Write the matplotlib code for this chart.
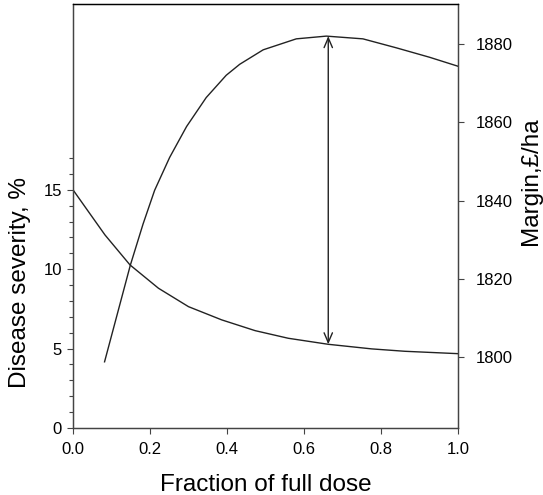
import matplotlib.pyplot as plt
from matplotlib.ticker import FixedLocator

plt.rcParams['font.family'] = ['Liberation Sans', 'DejaVu Sans']

# Disease severity (%)
dose_disease = [0.0, 0.040, 0.083, 0.148, 0.222, 0.300, 0.386, 0.473, 0.559, 0.663, 0.776, 0.862, 1.0]
severity = [15.0, 13.63, 12.16, 10.27, 8.80, 7.64, 6.81, 6.13, 5.65, 5.27, 4.98, 4.83, 4.68]

# Margin (GBP/ha)
dose_margin = [0.082, 0.149, 0.182, 0.212, 0.251, 0.295, 0.346, 0.398, 0.433, 0.494,
               0.580, 0.658, 0.753, 0.840, 0.926, 1.0]
margin = [1798.8, 1823.5, 1834.0, 1842.6, 1851.0, 1858.9, 1866.3, 1872.0, 1874.8, 1878.5,
          1881.3, 1882.0, 1881.3, 1879.0, 1876.6, 1874.3]

# optimum dose where the arrow is drawn
opt_dose = 0.663
opt_severity = 5.27
opt_margin = 1882.0

fig = plt.figure(figsize=(5.43, 4.95), dpi=100)
ax = fig.add_axes([0.1344, 0.1354, 0.7091, 0.8565])
ax2 = ax.twinx()

ax.plot(dose_disease, severity, color='#222222', lw=1.0)
ax2.plot(dose_margin, margin, color='#222222', lw=1.0)

ax.set_xlim(0, 1.0)
ax.set_ylim(0, 26.7)
ax2.set_ylim(1781.9, 1890.2)

ax.set_xticks([0.0, 0.2, 0.4, 0.6, 0.8, 1.0])
ax.set_xticklabels(['0.0', '0.2', '0.4', '0.6', '0.8', '1.0'])
ax.set_yticks([0, 5, 10, 15])
ax.yaxis.set_minor_locator(FixedLocator([1, 2, 3, 4, 6, 7, 8, 9, 11, 12, 13, 14, 16, 17]))
ax2.set_yticks([1800, 1820, 1840, 1860, 1880])

ax.tick_params(axis='x', which='major', direction='out', length=4, width=0.8,
               color='#444444', labelsize=12, pad=6)
ax.tick_params(axis='y', which='major', direction='out', length=4, width=0.8,
               color='#444444', labelsize=12, pad=4)
ax.tick_params(axis='y', which='minor', direction='out', length=3, width=0.8, color='#444444')
ax2.tick_params(axis='y', which='major', direction='out', length=4, width=0.8,
                color='#444444', labelsize=12, pad=9)

for a in (ax, ax2):
    for s in a.spines.values():
        s.set_color('#444444')
        s.set_linewidth(0.9)
    a.spines['top'].set_color('black')

ax.set_xlabel('Fraction of full dose', fontsize=17.5, labelpad=12)
ax.set_ylabel('Disease severity, %', fontsize=17.5)
ax2.set_ylabel('Margin,£/ha', fontsize=17.5)
# the labels sit off-centre in the original
ax.yaxis.set_label_coords(-0.11, 0.342)
ax2.yaxis.set_label_coords(1.16, 0.583)

# double headed arrow between the two curves at the optimum dose
ax2.annotate('', xy=(opt_dose, opt_margin), xycoords='data',
             xytext=(opt_dose, opt_severity), textcoords=ax.transData,
             arrowprops=dict(arrowstyle='<->,head_length=0.7,head_width=0.3',
                             color='#222222', lw=1.0, shrinkA=0, shrinkB=0))

fig.savefig('out.png', dpi=100)
